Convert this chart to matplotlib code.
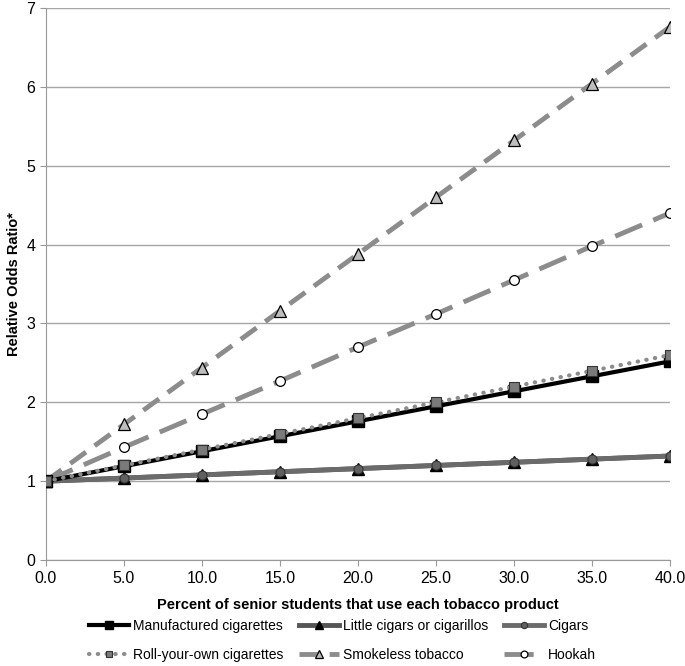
import matplotlib.pyplot as plt

plt.rcParams['font.family'] = ['Liberation Sans', 'DejaVu Sans']

# percent of senior students using each product
pct = [0, 5, 10, 15, 20, 25, 30, 35, 40]

manufactured = [1.0, 1.19, 1.38, 1.57, 1.76, 1.95, 2.14, 2.33, 2.52]
little_cigars = [1.0, 1.04, 1.08, 1.12, 1.16, 1.20, 1.24, 1.28, 1.32]
cigars = [1.0, 1.04, 1.08, 1.12, 1.16, 1.20, 1.24, 1.28, 1.32]
roll_your_own = [1.0, 1.20, 1.40, 1.60, 1.80, 2.00, 2.20, 2.40, 2.60]
smokeless = [1.0, 1.72, 2.44, 3.16, 3.88, 4.60, 5.32, 6.04, 6.76]
hookah = [1.0, 1.43, 1.85, 2.27, 2.70, 3.12, 3.55, 3.98, 4.40]

fig = plt.figure(figsize=(6.85, 6.66), dpi=100)
ax = fig.add_axes([0.067, 0.159, 0.911, 0.829])

ax.plot(pct, smokeless, color='#8c8c8c', lw=3.5, dashes=(4, 2.2), marker='^',
        ms=8, mfc='#bdbdbd', mec='black', mew=0.9, label='Smokeless tobacco', zorder=3)
ax.plot(pct, hookah, color='#8c8c8c', lw=3.5, dashes=(6, 2.5), marker='o',
        ms=7, mfc='white', mec='black', mew=0.9, label='Hookah', zorder=3)
ax.plot(pct, little_cigars, color='#555555', lw=3.5, marker='^',
        ms=8, mfc='black', mec='black', label='Little cigars or cigarillos', zorder=4)
ax.plot(pct, cigars, color='#6b6b6b', lw=3.5, marker='o',
        ms=6.5, mfc='#606060', mec='#333333', mew=0.8, label='Cigars', zorder=5)
ax.plot(pct, manufactured, color='black', lw=3, marker='s',
        ms=8, mfc='black', mec='black', label='Manufactured cigarettes', zorder=6)
ax.plot(pct, roll_your_own, color='#8c8c8c', lw=3, ls=(0, (0.1, 2)),
        dash_capstyle='round', marker='s', ms=7, mfc='#7a7a7a', mec='#333333',
        mew=0.8, label='Roll-your-own cigarettes', zorder=7)

ax.set_xlim(0, 40)
ax.set_ylim(0, 7)
ax.set_xticks(pct)
ax.set_xticklabels([f'{v:.1f}' for v in pct])
ax.set_yticks(range(8))
ax.tick_params(labelsize=11.5, color='#999999', length=4)
ax.yaxis.grid(True, color='#a6a6a6', lw=1)
ax.set_axisbelow(True)
for s in ['top', 'right']:
    ax.spines[s].set_visible(False)
for s in ['left', 'bottom']:
    ax.spines[s].set_color('#999999')

ax.set_xlabel('Percent of senior students that use each tobacco product',
              fontsize=10.5, fontweight='bold', labelpad=9)
ax.set_ylabel('Relative Odds Ratio*', fontsize=10.5, fontweight='bold', labelpad=4)

handles, labels = ax.get_legend_handles_labels()
order = ['Manufactured cigarettes', 'Roll-your-own cigarettes',
         'Little cigars or cigarillos', 'Smokeless tobacco', 'Cigars', 'Hookah']
hl = dict(zip(labels, handles))
fig.legend([hl[k] for k in order], order, ncol=3, loc='lower center',
           bbox_to_anchor=(0.5, 0.0), frameon=False, fontsize=10,
           handlelength=2.9, columnspacing=1.1, labelspacing=1.05,
           handletextpad=0.3, markerscale=0.7, borderaxespad=0.1, borderpad=0.2)

fig.savefig('out.png', dpi=100)
